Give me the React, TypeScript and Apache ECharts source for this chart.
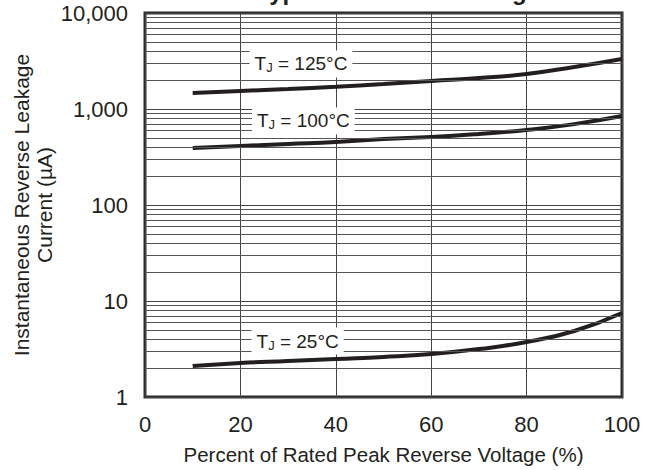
import React, { useEffect, useRef } from "react";
import * as echarts from "echarts";

const percent = [10, 20, 30, 40, 50, 60, 70, 80, 90, 100];
const tj125 = [1468, 1540, 1616, 1707, 1820, 1960, 2100, 2315, 2740, 3320];
const tj100 = [393, 412, 432, 453, 487, 511, 550, 605, 696, 845];
const tj25 = [2.1, 2.26, 2.37, 2.49, 2.61, 2.8, 3.16, 3.74, 4.87, 7.5];

const curveLabels = [
  { name: "125", x: 32.7, y: 2943 },
  { name: "100", x: 33.2, y: 750 },
  { name: "25", x: 32.0, y: 3.83 },
];

const decades = [1, 10, 100, 1000];
const minorSteps = [2, 3, 4, 5, 6, 7, 8, 9];

const FONT = "'Liberation Sans', Arial, sans-serif";
const INK = "#231f20";

export default function App() {
  const ref = useRef<HTMLDivElement>(null);
  useEffect(() => {
    if (!ref.current) return;
    const chart = echarts.init(ref.current, undefined, { renderer: "svg" });
    const minorLines: any[] = [];
    decades.forEach((d) => minorSteps.forEach((m) => minorLines.push({ yAxis: d * m })));

    const mkLabel = (lbl: { name: string; x: number; y: number }) => ({
      symbol: "rect",
      symbolSize: 0,
      silent: true,
      data: [
        {
          coord: [lbl.x, lbl.y],
          label: {
            show: true,
            position: "inside",
            formatter: `{t|T}{s|J}{t| = ${lbl.name}°C}`,
            backgroundColor: "#fff",
            padding: [3, 5, 3, 5],
            rich: {
              t: { fontSize: 19, fontFamily: FONT, color: INK, lineHeight: 21 },
              s: { fontSize: 13, fontFamily: FONT, color: INK, lineHeight: 21, padding: [8, 0, 0, 0] },
            },
          },
        },
      ],
    });

    const lineSeries = (data: number[], lbl: any) => ({
      type: "line",
      smooth: true,
      symbol: "none",
      data: percent.map((p, i) => [p, data[i]]),
      lineStyle: { color: INK, width: 4 },
      z: 3,
      markPoint: mkLabel(lbl),
    });

    chart.setOption({
      animation: false,
      grid: {
        left: 145,
        right: 29,
        top: 13,
        bottom: 73,
        show: true,
        containLabel: false,
        outerBoundsMode: "none",
        borderColor: "#2a2a2a",
        borderWidth: 3,
        backgroundColor: "#fff",
      },
      graphic: [
        {
          type: "text",
          x: 540,
          y: 3,
          style: {
            text: "Typical Reverse Leakage",
            font: `bold 24px ${FONT}`,
            fill: INK,
            textAlign: "right",
            textVerticalAlign: "bottom",
          },
        },
      ],
      xAxis: {
        type: "value",
        min: 0,
        max: 100,
        interval: 20,
        axisLine: { show: false },
        axisTick: { show: false },
        axisLabel: { color: INK, fontSize: 22, fontFamily: FONT, margin: 16 },
        splitLine: { show: true, lineStyle: { color: "#444", width: 1 } },
        name: "Percent of Rated Peak Reverse Voltage (%)",
        nameLocation: "middle",
        nameGap: 47,
        nameMoveOverlap: false,
        nameTextStyle: { color: INK, fontSize: 20.5, fontFamily: FONT },
      },
      yAxis: {
        type: "log",
        logBase: 10,
        min: 1,
        max: 10000,
        axisLine: { show: false },
        axisTick: { show: false },
        axisLabel: {
          color: INK,
          fontSize: 22,
          fontFamily: FONT,
          margin: 17,
          formatter: (v: number) => v.toLocaleString("en-US"),
        },
        splitLine: { show: true, lineStyle: { color: "#444", width: 1 } },
        name: "Instantaneous Reverse Leakage\nCurrent (µA)",
        nameLocation: "middle",
        nameGap: 89,
        nameMoveOverlap: false,
        nameTextStyle: { color: INK, fontSize: 21, fontFamily: FONT, lineHeight: 23 },
      },
      series: [
        {
          type: "line",
          data: [],
          silent: true,
          markLine: {
            silent: true,
            symbol: "none",
            label: { show: false },
            lineStyle: { color: "#555", width: 1, type: "solid" },
            data: minorLines,
          },
          z: 1,
        },
        lineSeries(tj125, curveLabels[0]),
        lineSeries(tj100, curveLabels[1]),
        lineSeries(tj25, curveLabels[2]),
      ],
    });
    return () => chart.dispose();
  }, []);
  return <div ref={ref} style={{ width: 651, height: 470, position: "absolute", left: 0, top: 0 }} />;
}
